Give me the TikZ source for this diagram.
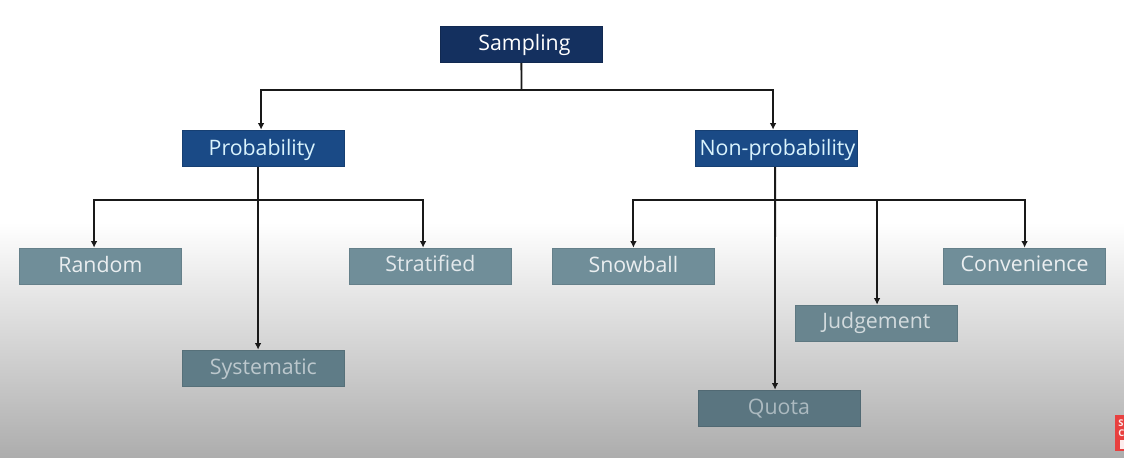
\documentclass[tikz,border=0pt]{standalone}
\usepackage{fontspec}
\setmainfont{Open Sans}
\usetikzlibrary{arrows.meta}
\definecolor{bgbot}{HTML}{ADADAD}
\definecolor{cSamp}{HTML}{14305F}
\definecolor{cProb}{HTML}{1A4A86}
\definecolor{cTopRow}{HTML}{708E99}
\definecolor{cMid}{HTML}{69858F}
\definecolor{cLow}{HTML}{5F7C87}
\definecolor{cQuota}{HTML}{5A7580}
\definecolor{badge}{HTML}{E8403F}
\newdimen\pxu \pxu=0.75pt
% text placed relative to the box centre: #1 px right, #2 px baseline below centre
\newcommand\boxtext[3]{\makebox[0pt]{\hspace*{2\dimexpr #1\pxu\relax}\raisebox{-#2\pxu}[0pt][0pt]{#3}}}
\tikzset{
  x=0.75pt,y=-0.75pt,
  box/.style={minimum width=121.5pt,minimum height=27.5pt,inner sep=0pt,text height=0pt,text depth=0pt,font=\fontsize{16}{18}\selectfont,anchor=center,line width=0.5pt},
  wire/.style={draw=black!90,line width=1.4pt},
  arrow/.style={wire,-{Latex[length=5pt,width=5pt]}}
}
\begin{document}
\begin{tikzpicture}
\useasboundingbox (0,0) rectangle (1124,457);
\fill[white] (0,0) rectangle (1124,222);
\shade[top color=white,bottom color=bgbot] (0,222) rectangle (1124,457);
\node[box,fill=cSamp,draw=cSamp!85!black,text=white] (samp) at (521.4,44.4) {\boxtext{3}{5.6}{Sampling}};
\node[box,fill=cProb,draw=cProb!85!black,text=white!85!cyan] (prob) at (263.4,148.4) {\boxtext{-1.5}{6.6}{Probability}};
\node[box,fill=cProb,draw=cProb!85!black,text=white!85!cyan] (nonp) at (776.4,148.4) {\boxtext{1}{6.6}{Non-probability}};
\node[box,fill=cTopRow,draw=cTopRow!90!black,text=white!85!cTopRow] (rand) at (100.4,266.4) {\boxtext{0}{6}{Random}};
\node[box,fill=cTopRow,draw=cTopRow!90!black,text=white!80!cTopRow] (strat) at (430.4,266.4) {\boxtext{0}{5}{Stratified}};
\node[box,fill=cTopRow,draw=cTopRow!90!black,text=white!85!cTopRow] (snow) at (633.4,266.4) {\boxtext{0}{6}{Snowball}};
\node[box,fill=cTopRow,draw=cTopRow!90!black,text=white!85!cTopRow] (conv) at (1024.6,266.4) {\boxtext{0}{5.5}{Convenience}};
\node[box,fill=cMid,draw=cMid!90!black,text=white!70!cMid] (judg) at (876.4,323.4) {\boxtext{0}{4.6}{Judgement}};
\node[box,fill=cLow,draw=cLow!90!black,text=white!58!cLow] (syst) at (263.4,368.4) {\boxtext{0}{5.6}{Systematic}};
\node[box,fill=cQuota,draw=cQuota!90!black,text=white!50!cQuota] (quot) at (778.9,408.4) {\boxtext{0}{6}{Quota}};
% branch points
\coordinate (jA) at (521.5,90);
\coordinate (jP) at (258,200);
\coordinate (jN) at (775,200);
% Sampling tree
\draw[wire] (samp.south) -- (jA);
\draw[arrow] (jA) -| ([xshift=-1.75pt]prob.north);
\draw[arrow] (jA) -| ([xshift=-2.5pt]nonp.north);
% Probability tree
\draw[arrow] ([xshift=-4pt]prob.south) -- ([xshift=-4pt]syst.north);
\draw[arrow] (jP) -| ([xshift=-4.75pt]rand.north);
\draw[arrow] (jP) -| ([xshift=-5.5pt]strat.north);
% Non-probability tree
\draw[arrow] ([xshift=-1pt]nonp.south) -- ([xshift=-2.9pt]quot.north);
\draw[arrow] (jN) -| (snow.north);
\draw[arrow] (jN) -| ([xshift=0.5pt]judg.north);
\draw[arrow] (jN) -| (conv.north);
% corner badge
\begin{scope}
\clip (1115,415) rectangle (1124,451);
\fill[badge] (1115,415) rectangle (1124,451);
\node[text=white!90!badge,font=\fontsize{7}{7}\bfseries\selectfont,inner sep=0pt,anchor=west] (badgeS) at (1118,423) {S};
\node[text=white!90!badge,font=\fontsize{7}{7}\bfseries\selectfont,inner sep=0pt,anchor=west] (badgeC) at (1118,433) {C};
\fill[white!90!badge] (1120,440) rectangle (1124,449);
\end{scope}
\end{tikzpicture}
\end{document}
